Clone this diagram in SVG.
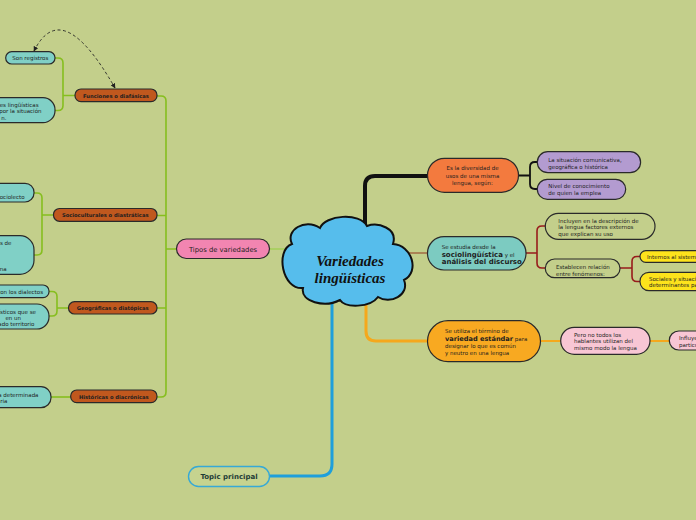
<svg xmlns="http://www.w3.org/2000/svg" width="696" height="520" viewBox="0 0 696 520">
<defs>
<marker id="ah" viewBox="0 0 10 10" refX="9" refY="5" markerWidth="5" markerHeight="5" orient="auto-start-reverse" markerUnits="userSpaceOnUse">
<path d="M0,0 L10,5 L0,10 z" fill="#222"/>
</marker>
<style>
text{font-family:"DejaVu Sans","Liberation Sans",sans-serif;fill:#1e1e1e}
.s{font-size:5.5px}
.b{font-size:5.2px;font-weight:bold}
.c{text-anchor:middle}
.e{text-anchor:end}
.box{stroke:#2a2a2a;stroke-width:1.2}
.brown{fill:#c0581e}
.teal{fill:#80d0c6}
.purple{fill:#b39bd0}
.yellow{fill:#fde31c}
.green{fill:none;stroke:#86be1f;stroke-width:1.6}
.red{fill:none;stroke:#981c1c;stroke-width:1.6}
.blk{fill:none;stroke:#111;stroke-width:1.8}
</style>
</defs>
<rect width="696" height="520" fill="#c3cf8b"/>

<g id="connectors">
<path class="green" d="M157,96 H161 Q166,96 166,101 V392 Q166,397 161,397 H157 M157,215.5 H166 M157,308 H166 M176,249 H166"/>
<path class="green" d="M75,95.5 H63 M55,58 H58 Q63,58 63,63 V105.5 Q63,110.5 58,110.5 H55"/>
<path class="green" d="M53,215 H42 M34,193 H37 Q42,193 42,198 V250 Q42,255 37,255 H34"/>
<path class="green" d="M68,308 H57 M49,291.5 H52 Q57,291.5 57,296.5 V311 Q57,316 52,316 H49"/>
<path class="green" d="M71,397 H51"/>
<path d="M34,51 Q62,-5 115,88" fill="none" stroke="#222" stroke-width="0.9" stroke-dasharray="3,2.5" marker-start="url(#ah)" marker-end="url(#ah)"/>
<path d="M270,249 H290" fill="none" stroke="#a6cf5a" stroke-width="1.6"/>
<path d="M365,230 V186 Q365,176 375,176 H428" fill="none" stroke="#111" stroke-width="4"/>
<path class="blk" d="M518,175.5 H530 M537,162 H535 Q530,162 530,167 V184 Q530,189 535,189 H537"/>
<path d="M408,253 H428" fill="none" stroke="#a0623e" stroke-width="1.4"/>
<path class="red" d="M526,253 H537 M545,226 H542 Q537,226 537,231 V263 Q537,268 542,268 H545"/>
<path class="red" d="M620,268 H632 M640,256.5 H637 Q632,256.5 632,261.5 V276.5 Q632,281.5 637,281.5 H640"/>
<path d="M366,296 V331 Q366,341 376,341 H428" fill="none" stroke="#f5a81c" stroke-width="3"/>
<path d="M540,341 H561 M650,341 H670" fill="none" stroke="#f5a81c" stroke-width="1.8"/>
<path d="M332,298 V464 Q332,476 320,476 H270" fill="none" stroke="#1e9fdb" stroke-width="3"/>
</g>

<g id="cloud">
<path d="M292,244 C285,230 305,218 320,228 C325,215 360,212 367,226 C378,222 398,228 393,244 C412,245 420,272 404,280 C410,295 390,305 378,297 C370,308 345,308 340,300 C325,308 300,302 303,288 C282,290 275,250 292,244 Z" fill="#56bdec" stroke="#111" stroke-width="2"/>
<text x="350" y="266" class="c" style="font-family:'Liberation Serif',serif;font-style:italic;font-weight:bold;font-size:15px;fill:#111">Variedades</text>
<text x="350" y="283" class="c" style="font-family:'Liberation Serif',serif;font-style:italic;font-weight:bold;font-size:15px;fill:#111">lingüísticas</text>
</g>

<g id="tipos">
<rect x="176.5" y="239" width="93" height="19.5" rx="9.75" fill="#f285b1" class="box"/>
<text x="223" y="251.5" class="c" style="font-size:6.8px">Tipos de variedades</text>
</g>

<g id="topic">
<rect x="188.5" y="466.5" width="81" height="20" rx="10" fill="#c6d38f" stroke="#36a9d6" stroke-width="1.4"/>
<text x="229" y="479" class="c" style="font-size:7px;font-weight:bold;fill:#1d3b36">Topic principal</text>
</g>

<g id="funciones">
<rect x="75" y="89" width="82" height="12.7" rx="6" class="box brown"/>
<text x="116" y="97.6" class="b c">Funciones o diafásicas</text>
</g>
<g id="registros">
<rect x="5.7" y="51.7" width="49.3" height="12.3" rx="6" class="box teal"/>
<text x="30.3" y="59.8" class="s c">Son registros</text>
</g>
<g id="funciones-def">
<rect x="-40" y="97.7" width="95" height="25" rx="12" class="box teal"/>
<text x="38.5" y="107" class="s e">es lingüísticas</text>
<text x="41.5" y="113.2" class="s e">por la situación</text>
<text x="6.5" y="119.6" class="s e">n.</text>
</g>

<g id="socio">
<rect x="53.5" y="208.5" width="103.5" height="12.8" rx="6" class="box brown"/>
<text x="105.2" y="217" class="b c">Socioculturales o diastráticas</text>
</g>
<g id="socio-1">
<rect x="-40" y="183.3" width="74" height="18.7" rx="9" class="box teal"/>
<text x="24.5" y="199" class="s e">sociolecto</text>
</g>
<g id="socio-2">
<rect x="-40" y="235.7" width="74" height="38.6" rx="14" class="box teal"/>
<text x="11.5" y="245" class="s e">s de</text>
<text x="6.5" y="271" class="s e">na</text>
</g>

<g id="geo">
<rect x="68.5" y="301.7" width="88.5" height="12.3" rx="6" class="box brown"/>
<text x="112.7" y="310" class="b c">Geográficas o diatópicas</text>
</g>
<g id="geo-1">
<rect x="-40" y="285" width="89" height="12.7" rx="6" class="box teal"/>
<text x="43" y="293.6" class="s e">con los dialectos</text>
</g>
<g id="geo-2">
<rect x="-40" y="304" width="89" height="25" rx="12" class="box teal"/>
<text x="36" y="313.5" class="s e">ísticos que se</text>
<text x="21" y="319.7" class="s e">en un</text>
<text x="34.5" y="326" class="s e">ado territorio</text>
</g>

<g id="hist">
<rect x="70.7" y="390" width="86.3" height="12.7" rx="6" class="box brown"/>
<text x="113.8" y="398.6" class="b c">Históricas o diacrónicas</text>
</g>
<g id="hist-1">
<rect x="-40" y="386.7" width="91" height="21" rx="10" class="box teal"/>
<text x="38.5" y="396.8" class="s e">a determinada</text>
<text x="7.5" y="403" class="s e">ria</text>
</g>

<g id="diversidad">
<rect x="427.5" y="158.3" width="91" height="34" rx="17" fill="#f37a3e" class="box"/>
<text x="472.5" y="170.3" class="s c">Es la diversidad de</text>
<text x="472.5" y="177.7" class="s c">usos de una misma</text>
<text x="472.5" y="185.2" class="s c">lengua, según:</text>
</g>
<g id="situacion">
<rect x="537.3" y="151.7" width="103.3" height="21" rx="10.5" class="box purple"/>
<text x="548.3" y="162" class="s">La situación comunicativa,</text>
<text x="548.3" y="168.7" class="s">geográfica o histórica</text>
</g>
<g id="nivel">
<rect x="537.3" y="179.3" width="88.4" height="20" rx="10" class="box purple"/>
<text x="548.3" y="188" class="s">Nivel de conocimiento</text>
<text x="548.3" y="195.3" class="s">de quien la emplea</text>
</g>

<g id="estudia">
<rect x="427.5" y="236.7" width="98.5" height="33.3" rx="16.5" fill="#7ccbc1" class="box"/>
<text x="441.7" y="248.5" class="s">Se estudia desde la</text>
<text x="441.7" y="256.5"><tspan style="font-size:7px;font-weight:bold">sociolingüística</tspan><tspan class="s"> y el</tspan></text>
<text x="441.7" y="263.5" style="font-size:7px;font-weight:bold">análisis del discurso</text>
</g>
<g id="incluyen">
<rect x="545.3" y="213.3" width="109.7" height="26" rx="13" fill="none" class="box"/>
<text x="558.3" y="222.5" class="s">Incluyen en la descripción de</text>
<text x="558.3" y="228.7" class="s">la lengua factores externos</text>
<text x="558.3" y="235.7" class="s">que explican su uso</text>
</g>
<g id="establecen">
<rect x="545.3" y="259" width="74.7" height="18.7" rx="9.3" fill="none" class="box"/>
<text x="556" y="268.5" class="s">Establecen relación</text>
<text x="556" y="275.8" class="s">entre fenómenos:</text>
</g>
<g id="internos">
<rect x="640" y="250.7" width="80" height="11.6" rx="5.8" class="box yellow"/>
<text x="647" y="258.8" class="s">Internos al sistema</text>
</g>
<g id="sociales">
<rect x="640" y="272.3" width="80" height="18.4" rx="9" class="box yellow"/>
<text x="649" y="280.6" class="s">Sociales y situacionales</text>
<text x="649" y="287" class="s">determinantes para</text>
</g>

<g id="estandar">
<rect x="427.5" y="320.7" width="113" height="41" rx="20.5" fill="#f8a921" class="box"/>
<text x="445" y="332.5" class="s">Se utiliza el término de</text>
<text x="445" y="340.5"><tspan style="font-size:6.6px;font-weight:bold">variedad estándar</tspan><tspan class="s"> para</tspan></text>
<text x="445" y="347.5" class="s">designar lo que es común</text>
<text x="445" y="355.2" class="s">y neutro en una lengua</text>
</g>
<g id="pero">
<rect x="560.7" y="327.3" width="89.3" height="27" rx="13.5" fill="#f8c6d4" class="box"/>
<text x="574" y="336.8" class="s">Pero no todos los</text>
<text x="574" y="342.9" class="s">hablantes utilizan del</text>
<text x="574" y="350" class="s">mismo modo la lengua</text>
</g>
<g id="influye">
<rect x="669.3" y="331" width="60" height="19" rx="9.5" fill="#f8c6d4" class="box"/>
<text x="679" y="340" class="s">Influyen</text>
<text x="679" y="346.8" class="s">particulares</text>
</g>
</svg>
